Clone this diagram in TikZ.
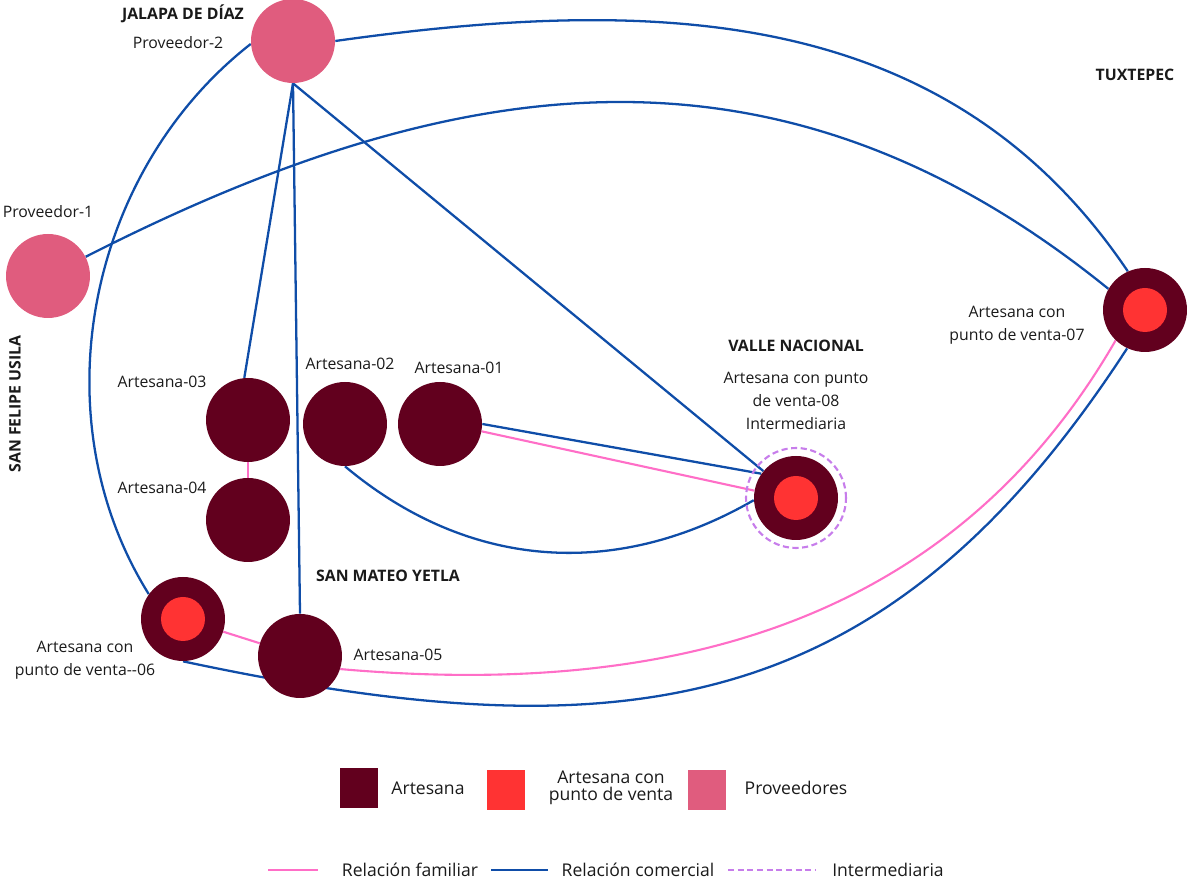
\documentclass[tikz,border=0pt]{standalone}
\usepackage{fontspec}
\setmainfont{Open Sans}
\definecolor{maroon}{HTML}{62001E}
\definecolor{venta}{HTML}{FF3333}
\definecolor{prov}{HTML}{E05C7E}
\definecolor{comer}{HTML}{0F4DA8}
\definecolor{famil}{HTML}{FF6EC7}
\definecolor{inter}{HTML}{C77DEB}
\definecolor{ink}{HTML}{1A1A1A}
\pgfdeclarelayer{bg}
\pgfsetlayers{bg,main}

\begin{document}
\begin{tikzpicture}[x=0.02cm,y=0.02cm,text=ink,font=\fontsize{9}{13}\selectfont,
  artesana/.style={circle,fill=maroon,minimum size=1.68cm,inner sep=0pt},
  puntoventa/.style={circle,fill=venta,minimum size=0.88cm,inner sep=0pt},
  proveedor/.style={circle,fill=prov,minimum size=1.68cm,inner sep=0pt},
  lugar/.style={font=\fontsize{9}{11}\selectfont\bfseries},
  comercial/.style={comer,line width=1.3pt},
  familiar/.style={famil,line width=1.2pt},
  intermed/.style={inter,line width=1.2pt,dash pattern=on 3.5pt off 2pt},
  cuadro/.style={minimum width=0.76cm,minimum height=0.8cm,inner sep=0pt},
  leyenda/.style={font=\fontsize{10}{10}\selectfont,align=center}]
  \useasboundingbox (0,0) rectangle (1187,881);
  % municipios
  \node[lugar] (tjalapa) at (183,867) {JALAPA DE DÍAZ};
  \node[lugar,rotate=90] (tusila) at (15,477) {SAN FELIPE USILA};
  \node[lugar] (tyetla) at (388,305) {SAN MATEO YETLA};
  \node[lugar] (tvalle) at (796,535) {VALLE NACIONAL};
  \node[lugar] (ttuxtepec) at (1135,806) {TUXTEPEC};
  % proveedores
  \node[proveedor] (p2) at (293,840) {};
  \node[proveedor] (p1) at (48,605) {};
  \node (tp2) at (178,838) {Proveedor-2};
  \node (tp1) at (48,669) {Proveedor-1};
  % artesanas
  \node[artesana] (a1) at (440,457) {};
  \node[artesana] (a2) at (345,457) {};
  \node[artesana] (a3) at (248,461) {};
  \node[artesana] (a4) at (248,361) {};
  \node[artesana] (a5) at (300,225) {};
  \node[artesana] (a6) at (183,262) {};
  \node[puntoventa] (a6in) at (a6) {};
  \node[artesana] (a7) at (1145,571) {};
  \node[puntoventa] (a7in) at (a7) {};
  \node[circle,intermed,draw,minimum size=2cm] (a8ring) at (796,383) {};
  \node[artesana] (a8) at (796,383) {};
  \node[puntoventa] (a8in) at (a8) {};
  \node (ta1) at (459,513) {Artesana-01};
  \node (ta2) at (350,517) {Artesana-02};
  \node (ta3) at (162,499) {Artesana-03};
  \node (ta4) at (162,393) {Artesana-04};
  \node (ta5) at (398,226) {Artesana-05};
  \node[align=center] (ta6) at (85,221) {Artesana con\\punto de venta-{}-06};
  \node[align=center] (ta7) at (1017,556) {Artesana con\\punto de venta-07};
  \node[align=center] (ta8) at (796,480) {Artesana con punto\\de venta-08\\Intermediaria};
  % relaciones
  \begin{pgfonlayer}{bg}
    \draw[comercial] (p2.east) to[out=8,in=124] (a7.114);
    \draw[comercial] (p1.27) to[out=27,in=141,looseness=1.05] (a7.150);
    \draw[comercial] (p2.184) to[out=218,in=122,looseness=0.95] (a6.144);
    \draw[comercial] (p2.south) -- (a3.95);
    \draw[comercial] (p2.south) -- (a5.north);
    \draw[comercial] (p2.south) -- (a8);
    \draw[comercial] (a1.east) -- (a8.145);
    \draw[familiar] (a1.-10) -- (a8.170);
    \draw[comercial] (a2.south) to[out=-40,in=210] (a8.183);
    \draw[familiar] (a3.south) -- (a4.north);
    \draw[familiar] (a6) -- (a5);
    \draw[familiar] (a5.-18) to[out=-5,in=240] (a7.226);
    \draw[comercial] (a6.south) to[out=-12,in=237,looseness=1.15] (a7.245);
  \end{pgfonlayer}
  % leyenda
  \node[cuadro,fill=maroon] (lart) at (359,93) {};
  \node[leyenda] (tlart) at (428,93) {Artesana};
  \node[cuadro,fill=venta] (lventa) at (506,91) {};
  \node[leyenda] (tlventa) at (611,93) {Artesana con\\punto de venta};
  \node[cuadro,fill=prov] (lprov) at (707,91) {};
  \node[leyenda] (tlprov) at (796,93) {Proveedores};
  \coordinate (lf1) at (268,11);
  \coordinate (lf2) at (318,11);
  \coordinate (lc1) at (491,11);
  \coordinate (lc2) at (548,11);
  \coordinate (li1) at (728,11);
  \coordinate (li2) at (815,11);
  \draw[familiar] (lf1) -- (lf2);
  \draw[comercial] (lc1) -- (lc2);
  \draw[intermed] (li1) -- (li2);
  \node[leyenda] (tlf) at (410,11) {Relación familiar};
  \node[leyenda] (tlc) at (638,11) {Relación comercial};
  \node[leyenda] (tli) at (888,11) {Intermediaria};
\end{tikzpicture}
\end{document}
